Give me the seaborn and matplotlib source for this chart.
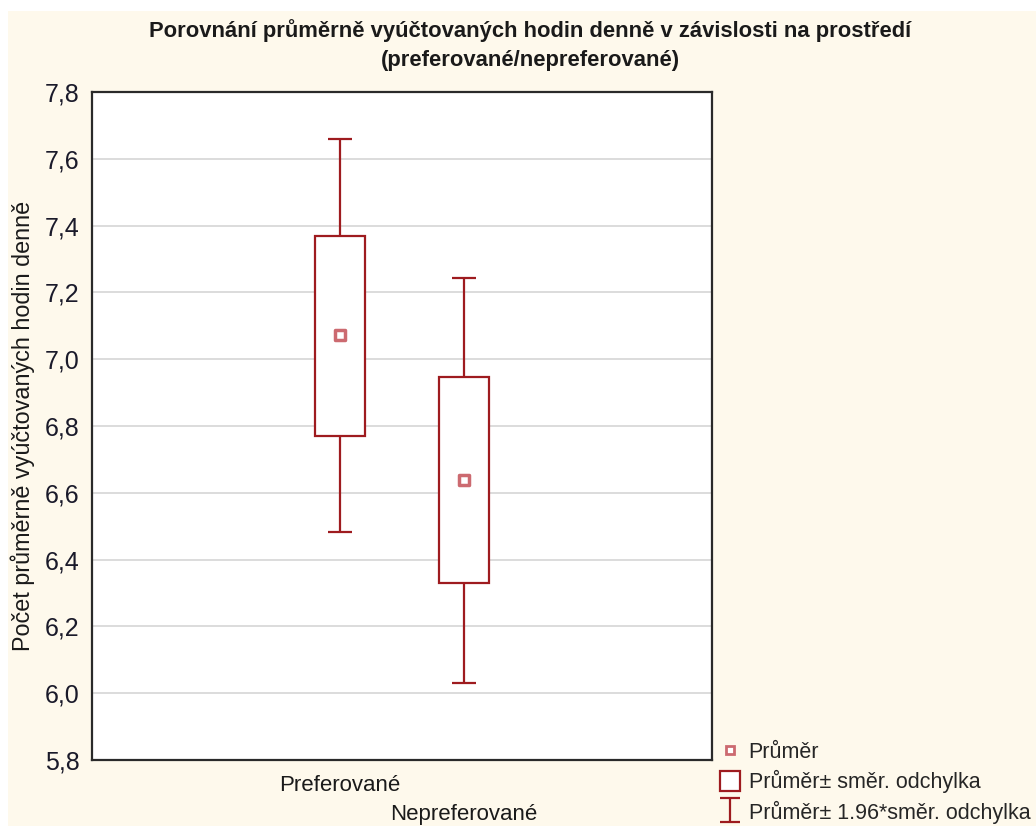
import numpy as np
import pandas as pd
import seaborn as sns
import matplotlib.pyplot as plt
from matplotlib.patches import Rectangle, Patch
from matplotlib.lines import Line2D
from matplotlib.path import Path
from matplotlib.ticker import FuncFormatter

# values
groups = ['Preferované', 'Nepreferované']
means = [7.072, 6.637]
sd_low = [6.770, 6.330]
sd_high = [7.369, 6.946]
ci_low = [6.482, 6.031]
ci_high = [7.659, 7.243]
yticks = [5.8, 6.0, 6.2, 6.4, 6.6, 6.8, 7.0, 7.2, 7.4, 7.6, 7.8]

line_col = '#9e1b1f'
mean_col = '#cc6a70'
bg_col = '#fef9ec'

sns.set_style('white')
plt.rcParams['font.family'] = ['Liberation Sans', 'DejaVu Sans']

fig = plt.figure(figsize=(10.36, 8.26), dpi=100)
fig.patch.set_facecolor('white')
# cream panel (white strip at top and left like the screenshot)
fig.patches.append(Rectangle((8 / 1036, 0), 1, 1 - 11 / 826, transform=fig.transFigure,
                             facecolor=bg_col, edgecolor='none', zorder=-10))

ax = fig.add_axes([92 / 1036, 1 - 760 / 826, 620 / 1036, 668 / 826])
ax.set_facecolor('white')

df = pd.DataFrame({'pos': [0, 1], 'group': groups, 'mean': means,
                   'sd_low': sd_low, 'sd_high': sd_high,
                   'ci_low': ci_low, 'ci_high': ci_high})

# whiskers (1.96*SD)
ax.vlines(df['pos'], df['ci_low'], df['ci_high'], color=line_col, lw=1.6, zorder=2)
ax.hlines(df['ci_low'], df['pos'] - 0.1, df['pos'] + 0.1, color=line_col, lw=1.6, zorder=2)
ax.hlines(df['ci_high'], df['pos'] - 0.1, df['pos'] + 0.1, color=line_col, lw=1.6, zorder=2)
# boxes (mean +- SD)
ax.bar(df['pos'], df['sd_high'] - df['sd_low'], bottom=df['sd_low'], width=0.41,
       facecolor='white', edgecolor=line_col, linewidth=1.6, zorder=3)
# means
sns.scatterplot(data=df, x='pos', y='mean', marker='s', s=55, color='white',
                edgecolor=mean_col, linewidth=2.5, zorder=4, ax=ax, legend=False)

ax.set_xlim(-2, 3)
ax.set_ylim(5.8, 7.8)
ax.set_yticks(yticks)
ax.yaxis.set_major_formatter(FuncFormatter(lambda v, p: f'{v:.1f}'.replace('.', ',')))
ax.set_xticks([-1, 0, 1, 2])
ax.set_xticklabels([])
ax.grid(axis='y', color='#dcdcdc', lw=1.4, zorder=0)
ax.set_axisbelow(True)
for s in ax.spines.values():
    s.set_color('#2a2a2a')
    s.set_linewidth(1.6)
ax.tick_params(axis='both', direction='in', length=5, width=1.2, color='#2a2a2a',
               labelsize=18, pad=9)
ax.tick_params(axis='y', labelcolor='#1a1a2a')
ax.set_xlabel('')
ax.set_ylabel('Počet průměrně vyúčtovaných hodin denně', fontsize=16.8, labelpad=7,
              color='#1a1a1a')

# staggered category labels
for i, (pos, name) in enumerate(zip(df['pos'], groups)):
    ax.text(pos, -0.022 - i * 0.044, name, transform=ax.get_xaxis_transform(),
            ha='center', va='top', fontsize=16, color='#1a1a1a')

fig.text(530 / 1036, 1 - 45 / 826,
         'Porovnání průměrně vyúčtovaných hodin denně v závislosti na prostředí\n(preferované/nepreferované)',
         ha='center', va='center', fontsize=15.8, fontweight='bold', linespacing=1.45,
         color='#1a1a1a')

# legend
ipath = Path([(-0.43, 0.5), (0.43, 0.5), (0, 0.5), (0, -0.5), (-0.43, -0.5), (0.43, -0.5)],
             [Path.MOVETO, Path.LINETO, Path.MOVETO, Path.LINETO, Path.MOVETO, Path.LINETO])
handles = [
    Line2D([], [], ls='', marker='s', markersize=5.5, mfc='white', mec=mean_col, mew=2),
    Patch(facecolor='white', edgecolor=line_col, linewidth=1.6),
    Line2D([], [], ls='', marker=ipath, markersize=17, mfc='none', mec=line_col, mew=1.6),
]
labels = ['Průměr', 'Průměr± směr. odchylka', 'Průměr± 1.96*směr. odchylka']
fig.legend(handles, labels, loc='upper left', bbox_to_anchor=(720 / 1036, 1 - 741 / 826),
           frameon=False, fontsize=15.5, handlelength=0.93, handleheight=1.03,
           handletextpad=0.4, labelspacing=0.33, borderaxespad=0, borderpad=0)

fig.savefig('out.png', dpi=100, facecolor=fig.get_facecolor())
